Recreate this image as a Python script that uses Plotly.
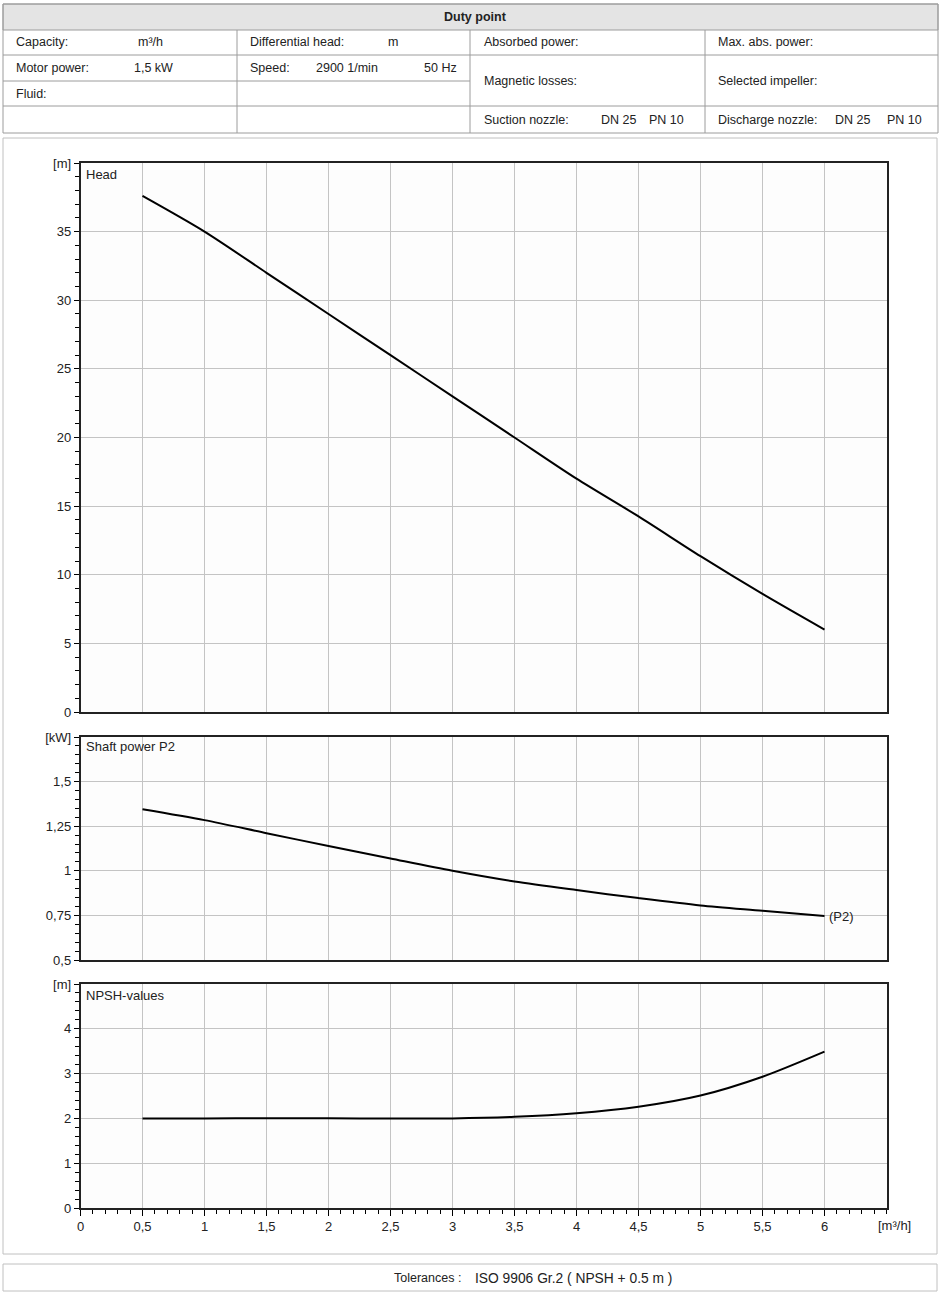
import plotly.graph_objects as go

# Kennlinien-Daten
flow = [0.5, 1, 1.5, 2, 2.5, 3, 3.5, 4, 4.5, 5, 5.5, 6]
head = [37.6, 35.0, 32.0, 29.0, 26.0, 23.0, 20.0, 17.0, 14.25, 11.35, 8.6, 6.0]
power = [1.345, 1.284, 1.211, 1.139, 1.069, 1.0, 0.94, 0.892, 0.847, 0.806, 0.776, 0.746]
npsh = [2.0, 2.0, 2.005, 2.005, 1.995, 2.0, 2.035, 2.115, 2.26, 2.51, 2.93, 3.49]

x_ticks = [0, 0.5, 1, 1.5, 2, 2.5, 3, 3.5, 4, 4.5, 5, 5.5, 6]
x_labels = ['0', '0,5', '1', '1,5', '2', '2,5', '3', '3,5', '4', '4,5', '5', '5,5', '6']
head_ticks = [0, 5, 10, 15, 20, 25, 30, 35, 40]
head_labels = ['0', '5', '10', '15', '20', '25', '30', '35', '[m]']
power_ticks = [0.5, 0.75, 1, 1.25, 1.5, 1.75]
power_labels = ['0,5', '0,75', '1', '1,25', '1,5', '[kW]']
npsh_ticks = [0, 1, 2, 3, 4, 5]
npsh_labels = ['0', '1', '2', '3', '4', '[m]']

W, H = 940, 1296
FONT = 'Liberation Sans, Arial, sans-serif'
GRID = '#c4c4c4'
TABLE = '#9c9c9c'


def px(x):
    return x / W


def py(y):
    return 1 - y / H


fig = go.Figure()

curve = dict(color='black', width=2, shape='spline', smoothing=0.8)
fig.add_trace(go.Scatter(x=flow, y=head, mode='lines', xaxis='x', yaxis='y', line=curve))
fig.add_trace(go.Scatter(x=flow, y=power, mode='lines', xaxis='x2', yaxis='y2', line=curve))
fig.add_trace(go.Scatter(x=flow, y=npsh, mode='lines', xaxis='x3', yaxis='y3', line=curve))

x_dom = [px(80.5), px(886.5)]


def xaxis(anchor, labels):
    return dict(domain=x_dom, anchor=anchor, range=[0, 6.5], tickvals=x_ticks,
                ticktext=x_labels, showticklabels=labels,
                ticks='outside' if labels else '', ticklen=6, tickcolor='black',
                minor=dict(dtick=0.1, ticks='outside' if labels else '', ticklen=4,
                           tickcolor='black', showgrid=False),
                showgrid=True, gridcolor=GRID, gridwidth=1,
                showline=True, linecolor='#222', linewidth=1.5, mirror=True,
                zeroline=False, fixedrange=True, automargin=False)


def yaxis(dom, anchor, rng, vals, text, minor_step):
    return dict(domain=dom, anchor=anchor, range=rng, tickvals=vals, ticktext=text,
                ticks='outside', ticklen=5, tickcolor='black',
                minor=dict(dtick=minor_step, tick0=rng[0], ticks='outside', ticklen=4,
                           tickcolor='black', showgrid=False),
                showgrid=True, gridcolor=GRID, gridwidth=1,
                showline=True, linecolor='#222', linewidth=1.5, mirror=True,
                zeroline=False, fixedrange=True, automargin=False)


y1 = yaxis([py(712), py(163)], 'x', [0, 40], head_ticks, head_labels, 1)
y2 = yaxis([py(960), py(737)], 'x2', [0.5, 1.75], power_ticks, power_labels, 0.05)
y3 = yaxis([py(1208), py(984)], 'x3', [0, 5], npsh_ticks, npsh_labels, 0.2)

# Rahmen und Tabelle
shapes = []


def rect(x0, y0, x1, y1, color=TABLE, fill=None):
    shapes.append(dict(type='rect', xref='paper', yref='paper', x0=px(x0), x1=px(x1),
                       y0=py(y0), y1=py(y1), line=dict(color=color, width=1),
                       fillcolor=fill, layer='below'))


def line(x0, y0, x1, y1, color=TABLE):
    shapes.append(dict(type='line', xref='paper', yref='paper', x0=px(x0), x1=px(x1),
                       y0=py(y0), y1=py(y1), line=dict(color=color, width=1)))


rect(3, 4, 938, 30, fill='#e4e4e4')
rect(3, 4, 938, 133)
line(3, 55, 938, 55)
line(3, 81, 470, 81)
line(3, 106, 938, 106)
line(237, 30, 237, 133)
line(470, 30, 470, 133)
line(705, 30, 705, 133)
rect(3, 138, 937, 1254, color='#c0c0c0')
rect(3, 1264, 937, 1291, color='#c0c0c0')

annotations = []


def text(x, y, s, anchor='left', size=12.5):
    annotations.append(dict(x=px(x), y=py(y), xref='paper', yref='paper', text=s,
                            showarrow=False, xanchor=anchor, yanchor='middle',
                            font=dict(family=FONT, size=size, color='#222')))


text(475, 17, '<b>Duty point</b>', anchor='center')
text(14, 42, 'Capacity:')
text(136, 42, 'm³/h')
text(248, 42, 'Differential head:')
text(386, 42, 'm')
text(14, 68, 'Motor power:')
text(132, 68, '1,5 kW')
text(248, 68, 'Speed:')
text(314, 68, '2900 1/min')
text(422, 68, '50 Hz')
text(14, 94, 'Fluid:')
text(482, 42, 'Absorbed power:')
text(716, 42, 'Max. abs. power:')
text(482, 81, 'Magnetic losses:')
text(716, 81, 'Selected impeller:')
text(482, 120, 'Suction nozzle:')
text(599, 120, 'DN 25')
text(647, 120, 'PN 10')
text(716, 120, 'Discharge nozzle:')
text(833, 120, 'DN 25')
text(885, 120, 'PN 10')
text(392, 1278, 'Tolerances :')
text(473, 1278, 'ISO 9906 Gr.2 ( NPSH + 0.5 m )', size=13.8)

text(84, 174, 'Head', size=13)
text(84, 747, 'Shaft power P2', size=13)
text(84, 995, 'NPSH-values', size=13)
text(876, 1225, '[m³/h]', size=13)

annotations.append(dict(x=flow[-1], y=power[-1], xref='x2', yref='y2', text='(P2)',
                        showarrow=False, xanchor='left', yanchor='middle', xshift=2,
                        font=dict(family=FONT, size=13, color='#222')))

fig.update_layout(
    width=W, height=H,
    margin=dict(l=0, r=0, t=0, b=0, pad=0, autoexpand=False),
    paper_bgcolor='white',
    plot_bgcolor='#fdfdfd',
    showlegend=False,
    font=dict(family=FONT, size=13, color='#222'),
    xaxis=xaxis('y', False),
    xaxis2=xaxis('y2', False),
    xaxis3=xaxis('y3', True),
    yaxis=y1, yaxis2=y2, yaxis3=y3,
    shapes=shapes,
    annotations=annotations,
)

fig.write_html('out.html', config={'displayModeBar': False},
               post_script="document.body.style.margin='0';document.body.style.overflow='hidden';")
